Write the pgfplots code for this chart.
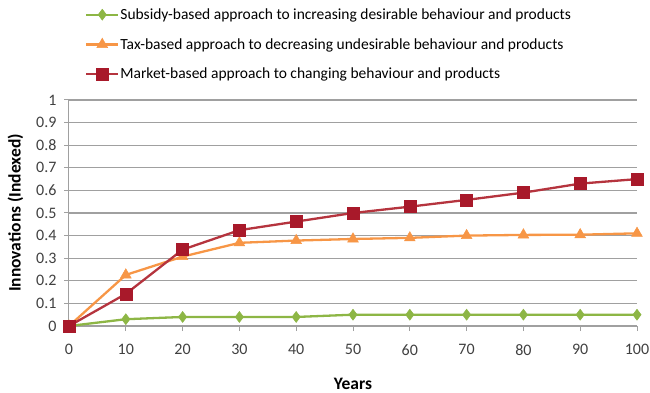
\documentclass[border=0pt]{standalone}
\usepackage{pgfplots}
\pgfplotsset{compat=1.18}
\usepackage{fontspec}
\setmainfont{Carlito}

\definecolor{subsidy}{HTML}{8DB645}
\definecolor{tax}{HTML}{F79646}
\definecolor{market}{HTML}{B5343E}
\definecolor{marketmark}{HTML}{A8192A}
\definecolor{gridgray}{HTML}{A0A0A0}

\begin{document}
\begin{tikzpicture}
\begin{axis}[
  scale only axis,
  width=568pt, height=226pt,
  xmin=0, xmax=100, ymin=0, ymax=1,
  xtick={0,10,...,100},
  ytick={0,0.1,...,1},
  yticklabels={0,0.1,0.2,0.3,0.4,0.5,0.6,0.7,0.8,0.9,1},
  /pgf/number format/assume math mode=true,
  ymajorgrids,
  grid style={gridgray, line width=1.3pt},
  axis line style={gridgray, line width=1pt},
  axis x line*=bottom, axis y line*=left,
  tick style={gridgray, line width=1pt},
  tick align=outside,
  major tick length=5pt,
  ticklabel style={font=\fontsize{16}{18}\selectfont, text=black!75},
  xticklabel style={yshift=-10pt},
  yticklabel style={xshift=-4pt},
  xlabel={\textbf{Years}},
  ylabel={\textbf{Innovations (Indexed)}},
  label style={font=\fontsize{17.5}{19}\selectfont},
  xlabel style={yshift=-16pt},
  ylabel style={yshift=6pt},
  clip=false,
  legend cell align=left,
  legend style={at={(0.028,1.41)}, anchor=north west, draw=none, fill=none,
    font=\fontsize{15.5}{17}\selectfont, row sep=15.5pt,
    inner sep=0pt, nodes={inner sep=1pt}},
  legend image code/.code={\draw[mark repeat=2,mark phase=2] plot coordinates {(0pt,0pt)(16pt,0pt)(32pt,0pt)};},
]
\addplot[subsidy, line width=2.3pt, mark=diamond*, mark size=5.5pt, mark options={fill=subsidy, line width=0.5pt}]
  coordinates {(0,0) (10,0.03) (20,0.04) (30,0.04) (40,0.04) (50,0.05) (60,0.05) (70,0.05) (80,0.05) (90,0.05) (100,0.05)};
\addlegendentry{Subsidy-based approach to increasing desirable behaviour and products}
\addplot[tax, line width=2.3pt, mark=triangle*, mark size=6.2pt, mark options={fill=tax, line width=0.5pt}]
  coordinates {(0,0) (10,0.226) (20,0.307) (30,0.368) (40,0.378) (50,0.385) (60,0.39) (70,0.40) (80,0.403) (90,0.404) (100,0.41)};
\addlegendentry{Tax-based approach to decreasing undesirable behaviour and products}
\addplot[market, line width=2.3pt, mark=square*, mark size=6pt, mark options={fill=marketmark, draw=marketmark, line width=0.5pt}]
  coordinates {(0,0) (10,0.142) (20,0.338) (30,0.424) (40,0.462) (50,0.50) (60,0.528) (70,0.558) (80,0.59) (90,0.63) (100,0.65)};
\addlegendentry{Market-based approach to changing behaviour and products}
\end{axis}
\pgfresetboundingbox
\path[use as bounding box] (-69pt,-67pt) rectangle ++(650pt,393pt);
\end{tikzpicture}
\end{document}
